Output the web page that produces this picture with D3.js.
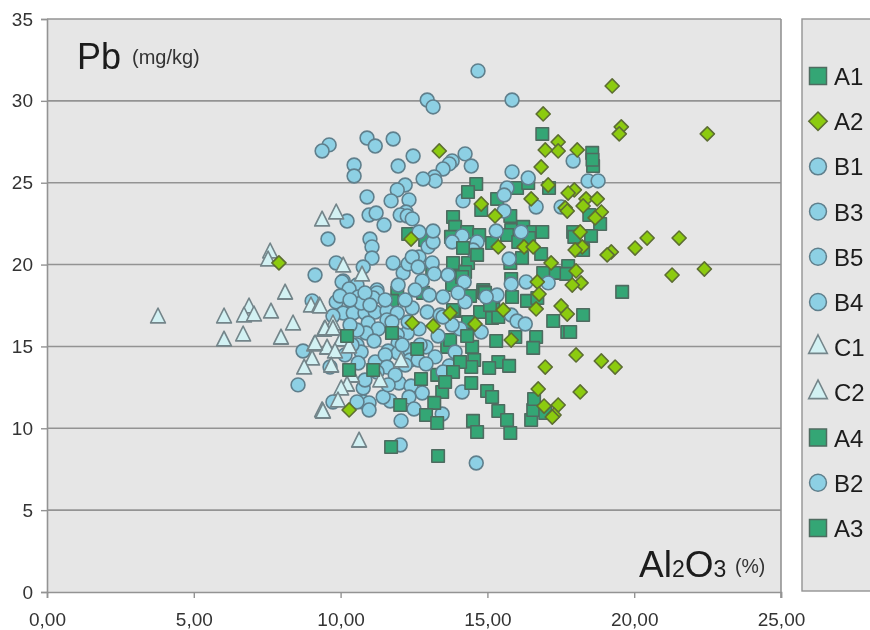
<!DOCTYPE html>
<html><head><meta charset="utf-8">
<script src="https://cdn.jsdelivr.net/npm/d3@7/dist/d3.min.js"></script>
<style>
html,body{margin:0;padding:0;background:#fff;overflow:hidden}
svg{display:block;filter:blur(0.4px);font-family:"Liberation Sans",Arial,sans-serif}
</style></head><body><svg id="c" width="870" height="630"></svg>
<script>
const legendOrder=["A1","A2","B1","B3","B5","B4","C1","C2","A4","B2","A3"];
const drawOrder=["A4","A1","B1","B3","B5","B4","B2","C1","C2","A3","A2"];
const xTicks=[0,5,10,15,20,25];
const yTicks=[0,5,10,15,20,25,30,35];
const A1=[[16.87,27.98],[18.57,26.82],[18.60,26.02],[18.58,26.4],[16.01,24.68],[16.39,24.98],[17.10,24.68],[18.47,23.03],[18.84,22.48],[16.22,22.30],[16.56,21.99],[16.87,21.99],[17.92,21.99],[17.96,21.69],[18.53,21.75],[16.05,21.38],[16.42,21.62],[16.83,20.65],[16.18,20.40],[18.26,20.89],[17.75,19.91],[17.68,19.43],[17.27,19.49],[16.90,19.49],[19.59,18.33],[18.26,16.92],[17.24,16.55],[17.72,15.88],[17.82,15.88],[16.66,15.58],[16.56,14.91],[15.95,15.58],[16.35,17.78],[16.70,17.96]];
const A2=[[19.25,30.91],[19.56,28.41],[19.49,27.98],[22.49,27.98],[16.90,29.20],[13.36,26.94],[17.41,27.49],[17.41,26.94],[16.97,27.00],[18.06,27.00],[16.83,25.96],[17.07,24.86],[17.96,24.56],[17.75,24.37],[16.49,24.01],[18.36,24.01],[18.74,24.01],[18.26,23.58],[17.65,23.46],[17.72,23.27],[18.88,23.21],[18.67,22.85],[14.79,23.70],[15.26,22.97],[18.16,21.99],[20.44,21.62],[20.03,21.01],[21.53,21.62],[19.22,20.77],[19.08,20.59],[18.23,21.08],[17.99,20.89],[16.25,21.08],[16.56,21.08],[15.37,21.08],[17.17,20.10],[18.02,19.61],[16.70,18.94],[18.19,18.88],[17.89,18.75],[16.76,18.20],[16.66,17.29],[15.54,17.23],[17.51,17.47],[17.72,16.98],[14.58,16.37],[13.73,17.04],[15.81,15.39],[18.02,14.48],[16.97,13.74],[18.88,14.11],[19.35,13.74],[16.73,12.40],[18.16,12.22],[16.93,11.36],[17.41,11.42],[17.27,10.81],[17.21,10.69],[12.44,16.43],[13.15,16.25],[10.29,11.12],[12.40,21.56],[7.90,20.10],[21.29,19.36],[22.39,19.73]];
const B1=[[14.68,31.83],[12.95,30.05],[13.15,29.63],[15.84,30.05],[9.61,27.31],[9.37,26.94],[10.90,27.73],[11.18,27.24],[11.79,27.67],[12.47,26.63],[11.96,26.02],[10.46,26.08],[10.46,25.41],[14.24,26.76],[14.45,26.02],[13.80,26.33],[13.70,26.15],[13.49,25.84],[13.19,25.35],[13.22,25.11],[12.81,25.23],[12.20,24.86],[11.93,24.56],[10.90,24.13],[11.72,23.89],[12.33,23.95],[10.22,22.66],[10.97,23.03],[11.21,23.15],[12.23,23.21],[12.03,23.03],[12.27,22.97],[12.44,22.79],[11.48,22.42],[9.57,21.56],[11.00,21.56],[11.07,21.08],[11.07,20.40],[9.85,20.10],[9.13,19.36]];
const B3=[[10.77,19.85],[10.09,19.00],[10.56,18.75],[11.79,20.10],[12.13,19.49],[12.30,20.04],[12.67,20.46],[12.44,20.46],[12.64,19.85],[13.12,20.10],[13.19,19.43],[12.78,19.00],[11.96,18.75],[12.98,21.08],[13.15,21.38],[13.15,22.05],[12.67,21.99],[14.17,23.89],[14.14,21.75],[14.65,21.38],[14.51,20.89],[14.21,18.94],[13.80,21.38],[13.66,19.36],[15.30,22.05],[11.24,18.45],[15.84,25.66],[16.39,25.29],[17.92,26.33],[18.43,25.11],[18.77,25.11],[15.67,24.68],[15.57,24.25],[16.66,23.52],[17.51,23.52],[15.57,23.27],[16.15,21.99],[15.74,20.34]];
const B5=[[16.32,18.94],[17.07,18.88],[15.81,18.81],[15.33,18.14],[14.96,18.02],[14.24,17.72],[15.81,16.92],[16.01,16.55],[16.29,16.37],[14.79,15.88],[14.07,16.07],[13.90,14.66],[13.76,13.81],[14.14,12.22],[13.80,16.31],[14.00,18.27],[10.05,18.94],[10.29,18.51],[11.24,18.27],[10.60,18.02],[9.85,17.72],[10.73,17.59],[13.02,18.14],[13.49,18.02],[9.03,17.78],[10.09,17.04],[10.43,17.04],[10.83,17.04],[11.18,17.10],[11.58,17.17],[11.93,17.04],[12.44,17.35],[12.95,17.10],[13.39,16.92],[13.49,16.80],[11.11,17.96],[10.70,17.65],[10.83,18.27],[9.98,18.08],[10.32,17.84],[11.52,17.84],[12.20,17.84],[12.54,18.45],[11.00,17.53]];
const B4=[[9.74,16.86],[10.94,16.43],[11.58,16.62],[11.28,16.07],[10.87,15.82],[12.67,16.07],[13.32,15.64],[12.27,15.82],[11.93,15.70],[11.14,15.33],[10.56,15.09],[11.96,15.21],[12.91,14.97],[10.70,14.66],[11.62,14.72],[8.72,14.72],[11.96,14.60],[12.37,14.72],[13.22,14.36],[11.18,14.05],[10.56,16.00],[10.32,16.31],[11.75,16.49],[12.30,16.49],[12.71,15.09],[11.52,14.48],[12.10,15.09],[10.39,15.09],[10.15,14.48]];
const B2=[[11.58,13.74],[12.37,14.17],[12.64,14.17],[10.60,13.99],[12.91,13.93],[13.70,13.81],[13.49,13.44],[11.24,13.44],[9.64,13.74],[10.77,12.46],[11.99,12.77],[12.40,12.58],[12.78,12.16],[8.55,12.65],[12.33,11.91],[11.69,11.67],[11.45,11.91],[10.77,11.61],[10.97,11.55],[10.97,11.12],[12.50,11.18],[13.46,10.87],[12.06,10.45],[12.03,8.98],[14.62,7.88],[9.74,11.61],[10.56,11.61],[12.20,13.87],[11.86,13.26],[10.83,12.95],[11.62,12.65]];
const C1=[[3.78,16.74],[6.03,16.74],[6.03,15.33],[6.68,15.64],[6.88,17.35],[6.71,16.80],[7.05,16.86],[7.63,17.04],[8.11,18.20],[7.60,20.71],[7.53,20.22],[7.97,15.45],[8.38,16.31],[8.99,17.41],[9.27,17.41],[9.44,15.94],[9.10,15.03],[9.54,14.84],[9.03,14.17],[8.76,13.62],[9.37,11.00]];
const C2=[[9.85,23.09],[9.37,22.66],[10.09,19.85],[10.73,19.30],[9.30,17.35],[9.74,16.31],[9.47,16.00],[9.74,16.00],[10.02,15.33],[10.29,14.91],[9.13,15.09],[9.81,14.60],[9.68,13.74],[12.06,14.05],[10.39,13.13],[11.35,12.83],[10.22,12.58],[10.02,12.34],[9.91,11.61],[9.40,10.93],[10.63,9.16]];
const A4=[[15.33,24.01],[14.79,23.33],[15.78,22.97],[15.81,22.11],[13.83,22.91],[13.90,22.30],[14.31,21.99],[14.72,21.81],[15.16,21.32],[15.67,21.81],[15.78,20.10],[13.83,20.10],[14.34,20.10],[15.81,19.12],[13.97,19.24],[13.80,18.88],[14.07,18.88],[14.86,18.45],[12.30,21.87],[12.88,21.50],[13.76,21.69],[14.24,19.55],[13.12,19.55],[15.84,18.02],[14.75,17.10],[14.34,16.49],[15.16,16.74],[15.37,16.80],[14.86,18.33],[14.41,18.08],[13.87,17.17],[15.20,17.65],[11.93,18.27],[11.75,17.78],[13.80,18.75],[15.16,18.02],[13.83,17.23],[13.63,14.97],[12.81,18.27],[14.14,19.24],[15.09,17.53],[14.92,18.27],[13.73,15.39],[13.29,13.26]];
const A3=[[14.62,24.92],[14.34,24.43],[14.17,21.01],[14.65,20.59],[15.30,15.33],[14.48,14.97],[14.31,15.64],[14.55,14.17],[14.45,13.74],[14.07,14.05],[13.83,13.44],[15.37,14.05],[15.74,13.81],[15.06,13.68],[14.45,12.77],[14.99,12.28],[15.16,11.91],[15.37,11.06],[15.67,10.51],[15.78,9.71],[14.51,10.45],[14.65,9.77],[16.49,10.51],[16.56,11.12],[16.59,11.79],[16.97,10.93],[10.22,15.64],[11.75,15.82],[12.61,14.84],[10.29,13.56],[12.74,13.01],[13.46,12.22],[13.56,12.83],[13.19,11.55],[12.03,11.42],[12.91,10.81],[13.29,10.32],[11.72,8.86],[13.32,8.31],[11.11,13.56]];
const seriesData={A1,A2,B1,B3,B5,B4,C1,C2,A4,B2,A3};

const x=d3.scaleLinear().domain([0,25]).range([47,781]);
const y=d3.scaleLinear().domain([0,35]).range([592,19]);
const svg=d3.select("#c");
const fmt=v=>d3.format(".2f")(v).replace(".",",");

svg.append("rect").attr("x",47).attr("y",19).attr("width",734).attr("height",573).attr("fill","#e6e6e6");
svg.append("g").selectAll("line").data(yTicks.slice(1)).join("line")
 .attr("x1",47).attr("x2",781).attr("y1",d=>y(d)).attr("y2",d=>y(d))
 .attr("stroke","#939393").attr("stroke-width",1.6);

const gx=svg.append("g").attr("transform","translate(0,592)")
 .call(d3.axisBottom(x).tickValues(xTicks).tickFormat(fmt).tickSize(6).tickPadding(15));
const gy=svg.append("g").attr("transform","translate(47,0)")
 .call(d3.axisLeft(y).tickValues(yTicks).tickFormat(d=>d).tickSize(6).tickPadding(8));
[gx,gy].forEach(g=>{
 g.selectAll("text").attr("font-family","Liberation Sans, Arial, sans-serif").attr("font-size",19).attr("fill","#333");
 g.selectAll("line").attr("stroke","#939393").attr("stroke-width",1.4);
 g.select(".domain").attr("stroke","#939393").attr("stroke-width",1.6);
});
svg.append("line").attr("x1",781).attr("x2",781).attr("y1",19).attr("y2",598).attr("stroke","#939393").attr("stroke-width",1.6);

const styles={
 square:{f:"#34a675",s:"#4f6b60"},
 diamond:{f:"#8ccb0f",s:"#5d6e33"},
 circle:{f:"#8dd0e4",s:"#5f7f8c"},
 triangle:{f:"#d2f1f3",s:"#74858a"}
};
const shapeOf=k=>k[0]==="C"?"triangle":(k==="A2"?"diamond":(k[0]==="A"?"square":"circle"));
const symbols={square:d3.symbolSquare,diamond:d3.symbolSquare,circle:d3.symbolCircle,triangle:d3.symbolTriangle};
const plotSizes={square:156,diamond:100,circle:150,triangle:95};
const legendSizes={square:289,diamond:170,circle:225,triangle:150};
function pathFor(sh,sizes){return d3.symbol().type(symbols[sh]).size(sizes[sh])();}
function rot(sh){return sh==="diamond"?" rotate(45)":(sh==="triangle"?" scale(1,1.15)":"");}
drawOrder.forEach(k=>{
 const sh=shapeOf(k),st=styles[sh];
 svg.append("g").attr("class","s-"+k).selectAll("path").data(seriesData[k]).join("path")
  .attr("d",pathFor(sh,plotSizes))
  .attr("transform",d=>`translate(${x(d[0])},${y(d[1])})${rot(sh)}`)
  .attr("fill",st.f).attr("stroke",st.s).attr("stroke-width",1.6).attr("stroke-linejoin","round");
});

// text annotations
const ann=svg.append("g").attr("fill","#1c1c1c");
ann.append("text").attr("x",77).attr("y",69).attr("font-size",36).text("Pb");
ann.append("text").attr("x",132).attr("y",64).attr("font-size",20).attr("fill","#333").text("(mg/kg)");
const t=ann.append("text").attr("x",639).attr("y",577);
t.append("tspan").attr("font-size",37).text("Al");
t.append("tspan").attr("font-size",23).text("2");
t.append("tspan").attr("font-size",37).text("O");
t.append("tspan").attr("font-size",23).text("3");
ann.append("text").attr("x",735).attr("y",573).attr("font-size",19.5).attr("fill","#333").text("(%)");

// legend
const ly=d3.scalePoint().domain(legendOrder).range([76,528]);
svg.append("rect").attr("x",802).attr("y",19).attr("width",80).attr("height",572)
 .attr("fill","#e6e6e6").attr("stroke","#939393").attr("stroke-width",1.4);
const lg=svg.append("g").selectAll("g").data(legendOrder).join("g")
 .attr("transform",d=>`translate(818,${ly(d)})`);
lg.append("path").attr("d",d=>pathFor(shapeOf(d),legendSizes))
 .attr("transform",d=>rot(shapeOf(d)).trim())
 .attr("fill",d=>styles[shapeOf(d)].f).attr("stroke",d=>styles[shapeOf(d)].s).attr("stroke-width",1.5);
lg.append("text").attr("x",16).attr("y",9).attr("font-size",24).attr("fill","#1c1c1c").text(d=>d);
</script></body></html>
